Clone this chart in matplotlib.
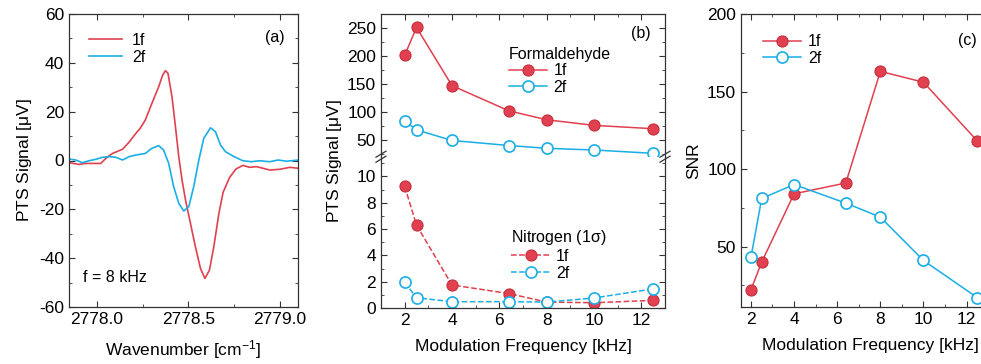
import matplotlib
matplotlib.use("Agg")
import matplotlib.pyplot as plt
from matplotlib.ticker import MultipleLocator

plt.rcParams['font.family'] = ['Liberation Sans', 'DejaVu Sans']
plt.rcParams['font.size'] = 11.5
plt.rcParams['axes.unicode_minus'] = False
plt.rcParams['mathtext.fontset'] = 'custom'
plt.rcParams['mathtext.rm'] = 'Liberation Sans'
plt.rcParams['mathtext.it'] = 'Liberation Sans'

RED = '#e0404f'
RED_DARK = '#c8303f'
BLUE = '#1aaee6'

# ---- panel (a): spectra at f = 8 kHz ----
wn_1f = [2777.846, 2777.901, 2777.938, 2778.020, 2778.048, 2778.084, 2778.139,
         2778.175, 2778.212, 2778.236, 2778.264, 2778.300, 2778.337, 2778.359,
         2778.374, 2778.388, 2778.410, 2778.429, 2778.447, 2778.465, 2778.484,
         2778.511, 2778.538, 2778.566, 2778.590, 2778.615, 2778.639, 2778.667,
         2778.690, 2778.725, 2778.760, 2778.798, 2778.835, 2778.872, 2778.945,
         2779.000, 2779.055, 2779.104]
sig_1f = [-0.9, -1.6, -1.2, -1.2, 0.9, 2.9, 4.6, 7.5, 11.1, 13.2, 16.6, 23.4,
          30.2, 35.0, 36.8, 35.7, 26.1, 13.8, 1.6, -8.0, -16.2, -25.7, -35.3,
          -44.2, -48.3, -44.9, -35.3, -21.6, -13.0, -7.0, -3.5, -2.0, -2.8,
          -2.5, -3.9, -3.6, -2.8, -3.2]

wn_2f = [2777.846, 2777.883, 2777.919, 2777.956, 2777.993, 2778.029, 2778.066,
         2778.103, 2778.139, 2778.176, 2778.209, 2778.264, 2778.300, 2778.337,
         2778.364, 2778.392, 2778.419, 2778.447, 2778.474, 2778.502, 2778.529,
         2778.557, 2778.584, 2778.621, 2778.648, 2778.676, 2778.703, 2778.749,
         2778.798, 2778.845, 2778.890, 2778.945, 2778.991, 2779.037, 2779.104]
sig_2f = [0.6, 0.2, -0.9, -0.1, 0.5, 1.3, 1.6, 1.3, 0.2, 1.6, 2.2, 2.9, 5.0,
          6.1, 4.3, -1.2, -10.7, -17.5, -20.7, -18.9, -10.7, 0.2, 9.1, 13.4,
          11.8, 6.3, 3.6, 1.6, -0.1, -0.5, -0.1, -0.5, 0.2, -0.3, 0.2]

# ---- panel (b): PTS signal vs modulation frequency ----
freq = [2, 2.5, 4, 6.4, 8, 10, 12.5]
form_1f = [201, 251, 147, 102, 86, 76, 70]
form_2f = [84, 68, 49, 40, 35, 32, 26]
nit_1f = [9.25, 6.3, 1.75, 1.1, 0.45, 0.4, 0.58]
nit_2f = [1.95, 0.78, 0.48, 0.48, 0.45, 0.76, 1.45]

# ---- panel (c): SNR ----
snr_1f = [22, 40, 84, 91, 163, 156, 118]
snr_2f = [43, 81, 90, 78, 69, 41, 17]

W, H = 981, 364
fig = plt.figure(figsize=(W / 100, H / 100), dpi=100)
TICK = 12.5
TXT = 11.5
LAB = 12.5


def box(l, t, r, b):
    return [l / W, 1 - b / H, (r - l) / W, (b - t) / H]


def style(ax):
    ax.tick_params(which='both', direction='in', top=True, right=True,
                   labelsize=TICK, color='#333333')
    ax.tick_params(which='major', length=4)
    ax.tick_params(which='minor', length=2.5)
    for s in ax.spines.values():
        s.set_linewidth(0.9)
        s.set_color('#333333')


def filled(ax, x, y, ls='-', label=None):
    return ax.plot(x, y, ls, color=RED, lw=1.1, marker='o', ms=8,
                   mfc=RED, mec=RED_DARK, mew=0.8, label=label)


def hollow(ax, x, y, ls='-', label=None):
    return ax.plot(x, y, ls, color=BLUE, lw=1.1, marker='o', ms=8,
                   mfc='white', mec=BLUE, mew=1.2, label=label)


# panel (a)
axa = fig.add_axes(box(69, 14, 298, 307))
axa.plot(wn_1f, sig_1f, color=RED, lw=1.2, label='1f')
axa.plot(wn_2f, sig_2f, color=BLUE, lw=1.2, label='2f')
axa.set_xlim(2777.846, 2779.1)
axa.set_ylim(-60, 60)
axa.xaxis.set_major_locator(MultipleLocator(0.5))
axa.xaxis.set_minor_locator(MultipleLocator(0.25))
axa.yaxis.set_major_locator(MultipleLocator(20))
axa.yaxis.set_minor_locator(MultipleLocator(10))
axa.xaxis.set_major_formatter(plt.FormatStrFormatter('%.1f'))
style(axa)
axa.set_xlabel('Wavenumber [cm$^{-1}$]', fontsize=LAB, labelpad=8)
axa.set_ylabel(r'PTS Signal [$\mu$V]', fontsize=LAB, labelpad=4)
axa.legend(loc='upper left', frameon=False, fontsize=TXT, handlelength=2.1,
           borderaxespad=0.4, labelspacing=0.15, handletextpad=0.6,
           bbox_to_anchor=(0.03, 0.98))
axa.text(0.94, 0.92, '(a)', transform=axa.transAxes, ha='right', va='center',
         fontsize=TXT)
axa.text(0.06, 0.1, 'f = 8 kHz', transform=axa.transAxes, ha='left',
         va='center', fontsize=TXT)

# panel (b): broken axis
brk = 156.7
axt = fig.add_axes(box(381, 14, 665, brk))
axb = fig.add_axes(box(381, brk, 665, 308))
f1, = filled(axt, freq, form_1f, label='1f')
f2, = hollow(axt, freq, form_2f, label='2f')
n1, = filled(axb, freq, nit_1f, ls='--', label='1f')
n2, = hollow(axb, freq, nit_2f, ls='--', label='2f')
for ax in (axt, axb):
    ax.set_xlim(1, 13)
    ax.xaxis.set_major_locator(MultipleLocator(2))
    ax.xaxis.set_minor_locator(MultipleLocator(1))
    style(ax)
axt.set_ylim(20, 275)
axt.yaxis.set_major_locator(MultipleLocator(50))
axt.yaxis.set_minor_locator(MultipleLocator(25))
axb.set_ylim(0, 11.5)
axb.yaxis.set_major_locator(MultipleLocator(2))
axb.yaxis.set_minor_locator(MultipleLocator(1))
axt.spines['bottom'].set_visible(False)
axb.spines['top'].set_visible(False)
axt.tick_params(which='both', bottom=False, labelbottom=False)
axb.tick_params(which='both', top=False)
axb.set_xlabel('Modulation Frequency [kHz]', fontsize=LAB, labelpad=8)
fig.text(334 / W, 1 - 161 / H, r'PTS Signal [$\mu$V]', rotation=90,
         ha='center', va='center', fontsize=LAB)
# break marks
for xf in (381, 665):
    for dy in (-2.5, 2.5):
        fig.add_artist(plt.Line2D([(xf - 5) / W, (xf + 5) / W],
                                  [1 - (brk + dy + 3) / H, 1 - (brk + dy - 3) / H],
                                  color='#333333', lw=0.9))
axt.text(0.95, 0.86, '(b)', transform=axt.transAxes, ha='right', va='center',
         fontsize=TXT)
lg = axt.legend(handles=[f1, f2], title='Formaldehyde', loc='upper left',
                bbox_to_anchor=(0.41, 0.85), frameon=False, fontsize=TXT,
                title_fontsize=TXT, handlelength=2.4, labelspacing=0.1,
                borderpad=0.2, handletextpad=0.4)
lg._legend_box.align = 'left'
lg2 = axb.legend(handles=[n1, n2], title=r'Nitrogen (1$\sigma$)', loc='upper left',
                 bbox_to_anchor=(0.42, 0.6), frameon=False, fontsize=TXT,
                 title_fontsize=TXT, handlelength=2.4, labelspacing=0.1,
                 borderpad=0.2, handletextpad=0.4)
lg2._legend_box.align = 'left'

# panel (c): runs off the right edge
axc = fig.add_axes(box(741, 14, 741 + 21.57 * 12, 307))
c1, = filled(axc, freq, snr_1f, label='1f')
c2, = hollow(axc, freq, snr_2f, label='2f')
axc.set_xlim(1.54, 13.54)
axc.set_ylim(11, 200)
axc.xaxis.set_major_locator(MultipleLocator(2))
axc.xaxis.set_minor_locator(MultipleLocator(1))
axc.yaxis.set_major_locator(MultipleLocator(50))
axc.yaxis.set_minor_locator(MultipleLocator(25))
style(axc)
axc.set_xlabel('Modulation Frequency [kHz]', fontsize=LAB, labelpad=8)
axc.set_ylabel('SNR', fontsize=LAB, labelpad=4)
axc.legend(loc='upper left', frameon=False, fontsize=TXT, handlelength=2.4,
           labelspacing=0.1, bbox_to_anchor=(0.03, 0.98), handletextpad=0.4)
fig.text(977 / W, 1 - 40 / H, '(c)', ha='right', va='center', fontsize=TXT)

fig.savefig('out.png', dpi=100)
